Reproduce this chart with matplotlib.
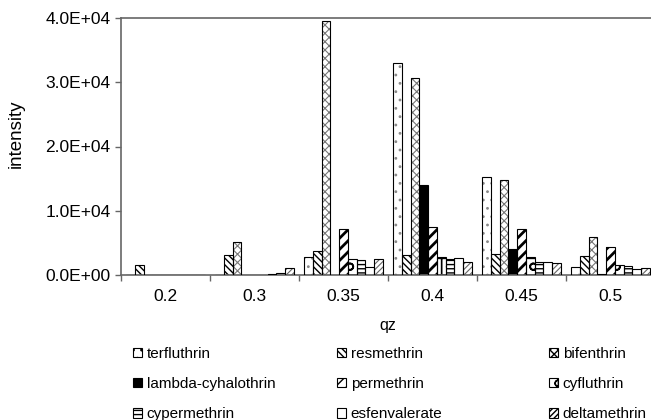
import numpy as np
import matplotlib
matplotlib.use("Agg")
import matplotlib.pyplot as plt
from matplotlib.patches import Patch

plt.rcParams['font.family'] = ['Liberation Sans', 'DejaVu Sans']
plt.rcParams['font.size'] = 11.5

# categories on the qz axis
qz_labels = ["0.2", "0.3", "0.35", "0.4", "0.45", "0.5"]

compounds = ["terfluthrin", "resmethrin", "bifenthrin",
             "lambda-cyhalothrin", "permethrin", "cyfluthrin",
             "cypermethrin", "esfenvalerate", "deltamethrin"]

# intensity per compound, one value per qz category
terfluthrin = [0, 0, 2750, 33000, 15300, 1200]
resmethrin = [1600, 3100, 3700, 3050, 3250, 2950]
bifenthrin = [0, 5200, 39600, 30700, 14800, 5950]
lambda_cyhalothrin = [0, 0, 0, 14000, 4100, 100]
permethrin = [0, 0, 7100, 7400, 7100, 4300]
cyfluthrin = [0, 0, 2550, 2750, 2750, 1600]
cypermethrin = [0, 100, 2400, 2550, 2100, 1450]
esfenvalerate = [0, 300, 1300, 2650, 2100, 900]
deltamethrin = [0, 1050, 2500, 1950, 1800, 1050]

series = [terfluthrin, resmethrin, bifenthrin, lambda_cyhalothrin, permethrin,
          cyfluthrin, cypermethrin, esfenvalerate, deltamethrin]

# (facecolor, hatch, hatch colour, hatch linewidth)
styles = [
    ("white", "..", "#888888", 0.8),
    ("white", "\\\\\\\\\\", "black", 1.0),
    ("white", "xxxx", "#777777", 0.8),
    ("black", "", "black", 0.8),
    ("white", "///", "black", 2.0),
    ("white", "+o", "black", 1.2),
    ("white", "----", "black", 1.0),
    ("white", "", "black", 0.8),
    ("white", "//////", "#666666", 0.8),
]

fig = plt.figure(figsize=(6.51, 4.2), dpi=100)
ax = fig.add_axes([121 / 651, 1 - 275 / 420, 534 / 651, 257 / 420])

n = len(compounds)
x = np.arange(len(qz_labels))
width = 0.88 / n
start = 0.5 - 0.44

for i, vals in enumerate(series):
    fc, hatch, hc, hlw = styles[i]
    pos = x + start + i * width
    plt.rcParams['hatch.linewidth'] = hlw
    ax.bar(pos, vals, width=width, align='edge', facecolor=fc,
           edgecolor=hc, hatch=hatch, linewidth=0, zorder=2)
    ax.bar(pos, vals, width=width, align='edge', fill=False,
           edgecolor='black', linewidth=0.8, zorder=3)

ax.set_xlim(0, len(qz_labels))
ax.set_ylim(0, 40000)
ax.set_yticks([0, 10000, 20000, 30000, 40000])
ax.set_yticklabels(["0.0E+00", "1.0E+04", "2.0E+04", "3.0E+04", "4.0E+04"],
                   fontsize=12.5)
ax.set_xticks(np.arange(len(qz_labels) + 1))
ax.set_xticklabels([])
ax.set_xticks(x + 0.5, minor=True)
ax.set_xticklabels(qz_labels, minor=True, fontsize=12.5)
ax.tick_params(axis='x', which='minor', length=0, pad=10)
ax.tick_params(axis='both', which='major', direction='out', length=4,
               color='#666666', width=1)
for side in ['left', 'bottom', 'top']:
    ax.spines[side].set_color('#666666')
    ax.spines[side].set_linewidth(1.2)
ax.spines['right'].set_visible(False)

ax.set_xlabel("qz", labelpad=10)
fig.text(16 / 651, 1 - 134 / 420, "intensity", rotation=90,
         ha='center', va='center', fontsize=13.5)

plt.rcParams['hatch.linewidth'] = 1.0
handles = []
for i in range(n):
    fc, hatch, hc, hlw = styles[i]
    handles.append(Patch(facecolor=fc, edgecolor='black', hatch=hatch,
                         linewidth=0.8, label=compounds[i]))

col_x = [133 / 651, 337 / 651, 549 / 651]
for c in range(3):
    hs = [handles[c], handles[c + 3], handles[c + 6]]
    fig.legend(handles=hs, loc='center left',
               bbox_to_anchor=(col_x[c], 1 - 384 / 420),
               frameon=False, borderpad=0, borderaxespad=0, fontsize=11,
               handlelength=0.6, handleheight=0.6, handletextpad=0.3,
               labelspacing=1.05)

fig.savefig("out.png", dpi=100)
